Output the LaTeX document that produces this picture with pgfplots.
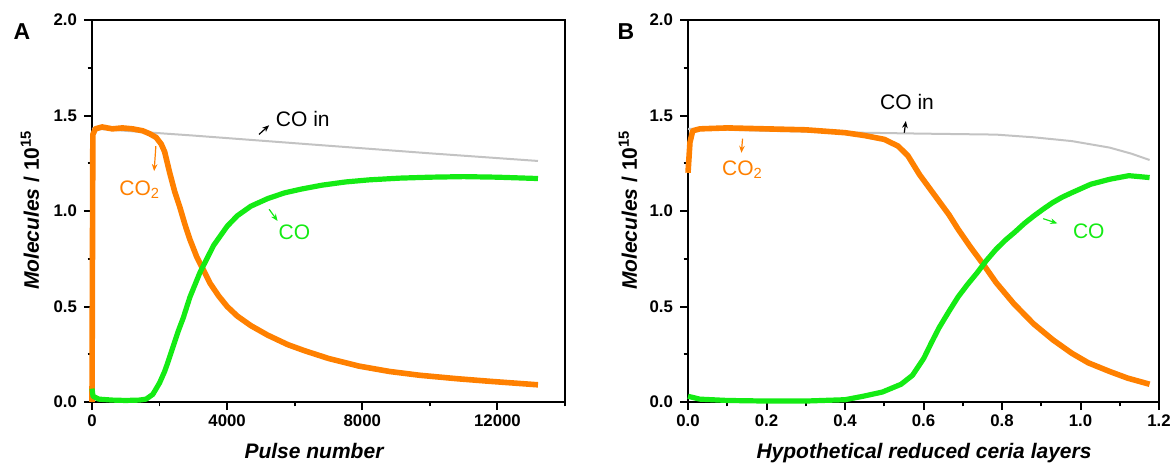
\documentclass[border=0pt]{standalone}
\usepackage{fontspec}
\setmainfont{Liberation Sans}
\usepackage{pgfplots}
\pgfplotsset{compat=1.18}
\usetikzlibrary{arrows.meta}

\definecolor{coOrange}{RGB}{255,128,0}
\definecolor{coGreen}{RGB}{20,235,20}
\definecolor{coGray}{RGB}{195,195,195}

\tikzset{
  lbl/.style={font=\fontsize{10.5}{12}\selectfont},
  arr/.style={-{Stealth[length=3.5pt,width=2.8pt]}, line width=0.6pt},
}
\pgfplotsset{
  panel/.style={
    scale only axis, anchor=south west, height=191pt,
    ymin=0, ymax=2, ytick={0,0.5,1,1.5,2}, minor ytick={0.25,0.75,1.25,1.75},
    yticklabel style={/pgf/number format/.cd, fixed, fixed zerofill, precision=1},
    tick align=outside, xtick pos=bottom, ytick pos=left,
    major tick length=4pt, minor tick length=2.2pt,
    every tick/.style={black, line width=1pt},
    every minor tick/.style={black, line width=0.9pt},
    axis line style={line width=1.2pt},
    tick label style={font=\bfseries\fontsize{8.4}{9}\selectfont},
    xticklabel style={yshift=1pt},
    /pgf/number format/assume math mode=true,
    clip=false,
  },
  coin/.style={coGray, line width=1pt},
  co2/.style={coOrange, line width=2.8pt, line join=round},
  co/.style={coGreen, line width=2.6pt, line join=round},
}

\begin{document}
\begin{tikzpicture}
\useasboundingbox (0,0) rectangle (585.5pt,233pt);

% ---- panel A ----
\begin{axis}[panel, at={(46pt,32pt)}, width=236.5pt,
  xmin=0, xmax=14000, xtick={0,4000,8000,12000}, minor xtick={2000,6000,10000,14000},
  scaled x ticks=false,
  xticklabel style={/pgf/number format/.cd, fixed, precision=0, set thousands separator={}}]
\addplot[coin] coordinates {(0,1.432) (3000,1.395) (6600,1.347) (10000,1.302) (13200,1.262)};
\addplot[co2] coordinates {
(0,0.0) (25,1.40) (100,1.43) (300,1.44) (600,1.43) (900,1.435) (1200,1.43) (1500,1.42)
(1700,1.405) (1900,1.385) (2050,1.35) (2150,1.31) (2300,1.20) (2450,1.10) (2600,1.02)
(2750,0.93) (2900,0.85) (3100,0.76) (3300,0.69) (3500,0.62) (3750,0.555) (4000,0.50)
(4300,0.45) (4700,0.40) (5200,0.35) (5800,0.30) (6300,0.268) (7000,0.228) (7900,0.188)
(8800,0.16) (9700,0.14) (10800,0.122) (11800,0.108) (13200,0.09)};
\addplot[co] coordinates {
(0,0.07) (30,0.03) (200,0.015) (600,0.01) (1000,0.008) (1400,0.01) (1600,0.015)
(1800,0.04) (2000,0.10) (2150,0.16) (2250,0.21) (2400,0.29) (2550,0.37) (2700,0.44)
(2900,0.55) (3200,0.68) (3600,0.82) (4000,0.92) (4300,0.975) (4700,1.025) (5200,1.065)
(5700,1.095) (6200,1.115) (6800,1.135) (7500,1.152) (8200,1.163) (9100,1.172)
(10000,1.177) (11000,1.18) (12000,1.177) (13200,1.17)};
\node[lbl] at (axis cs:6240,1.48) {CO in};
\draw[arr] (axis cs:4944,1.401) -- (axis cs:5243,1.449);
\node[lbl, coOrange] at (axis cs:1412,1.113) {CO\textsubscript{2}};
\draw[arr, coOrange] (axis cs:1890,1.34) -- (axis cs:1840,1.209);
\node[lbl, coGreen] at (axis cs:5990,0.887) {CO};
\draw[arr, coGreen] (axis cs:5243,1.009) -- (axis cs:5492,0.948);
\end{axis}

% ---- panel B ----
\begin{axis}[panel, at={(344pt,32pt)}, width=235.5pt,
  xmin=0, xmax=1.2, xtick={0,0.2,...,1.2}, minor xtick={0.1,0.3,...,1.1},
  xticklabel style={/pgf/number format/.cd, fixed, fixed zerofill, precision=1}]
\addplot[coin] coordinates {(0,1.43) (0.2,1.42) (0.437,1.41) (0.6,1.405) (0.785,1.40)
(0.88,1.386) (0.978,1.366) (1.074,1.332) (1.13,1.30) (1.176,1.267)};
\addplot[co2] coordinates {
(0,1.20) (0.005,1.36) (0.012,1.42) (0.03,1.43) (0.1,1.435) (0.2,1.43) (0.3,1.425)
(0.4,1.41) (0.45,1.395) (0.5,1.375) (0.535,1.34) (0.56,1.29) (0.59,1.19) (0.615,1.12)
(0.64,1.05) (0.665,0.98) (0.688,0.905) (0.72,0.81) (0.755,0.713) (0.785,0.625)
(0.83,0.515) (0.88,0.41) (0.93,0.325) (0.978,0.255) (1.02,0.205) (1.074,0.16)
(1.12,0.125) (1.176,0.093)};
\addplot[co] coordinates {
(0,0.03) (0.03,0.015) (0.1,0.008) (0.2,0.005) (0.3,0.005) (0.4,0.012) (0.446,0.03)
(0.495,0.052) (0.543,0.093) (0.572,0.14) (0.601,0.23) (0.62,0.31) (0.64,0.39)
(0.665,0.475) (0.688,0.55) (0.712,0.615) (0.736,0.675) (0.76,0.74) (0.785,0.80)
(0.81,0.85) (0.833,0.89) (0.857,0.935) (0.881,0.974) (0.905,1.01) (0.929,1.044)
(0.953,1.072) (0.978,1.096) (1.026,1.14) (1.074,1.166) (1.123,1.185) (1.15,1.18)
(1.176,1.175)};
\node[lbl] at (axis cs:0.558,1.571) {CO in};
\draw[arr] (axis cs:0.551,1.41) -- (axis cs:0.555,1.471);
\node[lbl, coOrange] at (axis cs:0.139,1.218) {CO\textsubscript{2}};
\draw[arr, coOrange] (axis cs:0.139,1.379) -- (axis cs:0.136,1.305);
\node[lbl, coGreen] at (axis cs:1.021,0.895) {CO};
\draw[arr, coGreen] (axis cs:0.905,0.96) -- (axis cs:0.941,0.935);
\end{axis}

% ---- labels ----
\node[font=\bfseries\fontsize{11.5}{13}\selectfont] at (11pt,217pt) {A};
\node[font=\bfseries\fontsize{11.5}{13}\selectfont] at (313pt,217pt) {B};
\node[rotate=90, font=\bfseries\fontsize{10.5}{12}\selectfont] at (15pt,128pt)
  {\itshape Molecules\upshape{} / 10\textsuperscript{15}};
\node[rotate=90, font=\bfseries\fontsize{10.5}{12}\selectfont] at (314pt,128pt)
  {\itshape Molecules\upshape{} / 10\textsuperscript{15}};
\node[anchor=base, font=\bfseries\itshape\fontsize{10.5}{12}\selectfont] at (157pt,4pt) {Pulse number};
\node[anchor=base, font=\bfseries\itshape\fontsize{10.5}{12}\selectfont] at (462pt,4pt) {Hypothetical reduced ceria layers};
\end{tikzpicture}
\end{document}
